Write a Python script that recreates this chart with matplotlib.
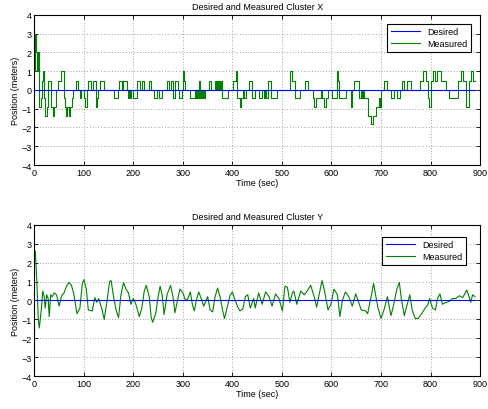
import matplotlib
matplotlib.use("Agg")
import matplotlib.pyplot as plt
import numpy as np

# ---- Data ----
# Cluster X measured: step changes (time in sec, position in meters)
x_change_times = [0, 1, 2, 4, 5, 7, 10, 13, 15, 17, 19, 22, 25, 28, 34, 37, 40, 44, 47, 54,
                  59, 62, 64, 66, 70, 72, 76, 79, 85, 89, 93, 95, 101, 103, 106, 107, 109, 114,
                  118, 124, 126, 128, 133, 140, 160, 168, 170, 178, 180, 187, 190, 192, 194, 196,
                  200, 207, 214, 217, 221, 231, 236, 242, 248, 251, 258, 268, 272, 275, 280, 285,
                  290, 293, 298, 300, 302, 304, 315, 325, 327, 329, 331, 333, 335, 337, 339, 341,
                  343, 345, 352, 356, 364, 366, 368, 370, 372, 374, 376, 378, 379, 391, 402, 407,
                  409, 410, 415, 417, 421, 424, 428, 434, 439, 440, 445, 453, 460, 463, 465, 467,
                  472, 478, 491, 517, 521, 526, 537, 546, 553, 562, 564, 568, 578, 581, 584, 589,
                  592, 602, 612, 614, 616, 629, 639, 642, 646, 656, 659, 661, 663, 666, 674, 679,
                  683, 689, 696, 698, 701, 706, 713, 720, 727, 733, 739, 743, 746, 753, 760, 779,
                  784, 791, 794, 797, 801, 805, 809, 814, 821, 831, 838, 855, 861, 865, 871, 878,
                  882, 885, 890]
x_levels = [2, 1, 3, 2, 1, 2, -0.9, -0.45, 0.5, 1, -0.45, -1.4, -0.9, 0.5, -0.9, -1.4, -0.9, 0, 0.5, 1,
            -0.45, -0.9, -1.4, -0.9, -1.4, -0.9, -0.45, 0, 0.5, 0, -0.45, 0, -0.45, -0.9, -0.45, 0, 0.5, 0,
            0.5, -0.9, -0.45, 0, 0.5, 0, -0.45, 0, 0.5, 0, 0.5, 0, -0.45, 0, -0.45, 0,
            -0.45, 0.5, 0, 0.5, 0, 0.5, 0, -0.45, 0, -0.45, 0, 0.5, 0, 0.5, -0.45, 0.5,
            0, -0.45, 0, 1, 0.5, 0, -0.45, 0, -0.45, 0, -0.45, 0.5, -0.45, 0, -0.45, 0,
            -0.45, 0, 0.5, 0, 0.5, 0, 0.5, 0, 0.5, 0, 0.5, 0, -0.45, 0, 0.5, 1,
            0, -0.45, -0.9, -0.45, 0, -0.45, 0, 0.5, 0, -0.45, 0, -0.45, 0, -0.45, 0, -0.45,
            0.5, -0.45, 0, 1, 0.5, -0.45, 0, 0.5, 0, -0.45, -0.9, -0.45, 0, -0.45, -0.9, -0.45,
            0, -0.45, 1, 0.5, -0.45, 0, -0.9, 0, 0.5, -0.45, 0, -0.45, 0, -0.45, -1.4, -1.8,
            -1.4, -0.9, -0.45, -0.9, 0, 0.5, 0, -0.45, 0, -0.45, 0, 0.5, 0, 0.5, 0, 0.5,
            1, 0.5, -0.45, -0.9, 0.5, 1, 0.5, 1, 0.5, 0, -0.45, 0.5, 1, 0.5, -0.9, 0.5,
            1, 0.5, 0.5]

# Cluster Y measured: (time in sec, position in meters)
y_times = [0, 2, 5, 8, 10, 14, 17, 20, 22, 25, 28, 30, 33, 36, 40, 45, 50, 55, 60, 65, 70, 75, 80,
           86, 92, 97, 100, 105, 109, 117, 122, 126, 130, 133, 137, 141, 147, 152, 155, 160, 165,
           170, 175, 180, 185, 190, 195, 200, 205, 212, 217, 222, 226, 232, 236, 239, 245, 250,
           254, 258, 262, 268, 275, 280, 284, 289, 294, 300, 305, 310, 315, 319, 323, 328, 332,
           337, 342, 350, 355, 360, 365, 370, 375, 380, 384, 390, 395, 400, 405, 410, 415, 421,
           426, 431, 436, 443, 446, 453, 460, 467, 474, 480, 487, 494, 501, 506, 511, 516, 521,
           524, 530, 538, 545, 551, 558, 565, 570, 575, 581, 586, 593, 599, 605, 612, 617, 622,
           628, 635, 642, 649, 655, 660, 669, 673, 680, 685, 689, 694, 700, 706, 713, 720, 725,
           732, 737, 741, 747, 752, 758, 763, 769, 775, 782, 788, 795, 798, 804, 810, 814, 819,
           824, 831, 838, 844, 851, 858, 865, 873, 878, 881, 885, 890]
y_values = [2.4, 2.6, 1.0, -1.0, -1.45, -0.5, 0.5, 0.2, -0.4, 0.3, 0.1, -0.85, 0.3, 0.2, 0.4, 0.3,
            -0.3, 0.25, 0.4, 0.75, 0.95, 0.8, 0.3, -0.7, -0.4, 0.9, 1.1, 0.6, -0.5, -0.55, 0.15,
            -0.1, 0.1, -0.15, -0.5, -1.0, 0.0, 1.0, 1.05, 0.2, -0.5, -0.9, 0.3, 0.95, 0.6, 0.4,
            -0.2, 0.1, -0.2, -0.85, -0.4, 0.5, 0.8, 0.2, -0.9, -1.15, -0.7, 0.2, 0.75, 0.3, -0.75,
            0.3, 0.8, 0.2, -0.65, 0.0, 0.6, 0.4, 0.0, 0.1, 0.45, -0.2, -0.55, 0.1, 0.45, 0.1, -0.3,
            0.2, -0.5, -0.6, 0.2, 0.65, 0.2, -0.5, -0.95, -0.3, 0.25, 0.45, 0.05, -0.3, -0.55,
            -0.45, 0.2, 0.3, -0.4, 0.1, -0.4, 0.4, -0.2, 0.45, 0.2, -0.3, 0.35, 0.1, -0.55, 0.75,
            0.7, -0.1, 0.4, 0.5, -0.2, 0.5, 0.3, 0.5, 0.8, 0.2, -0.35, 0.3, 1.05, 0.5, -0.5, -0.2,
            0.6, 0.3, -0.85, 0.0, 0.45, 0.2, -0.3, 0.35, -0.1, -0.5, -0.55, -0.7, 0.2, 0.9, 0.3,
            -0.4, -0.95, -0.5, 0.2, -0.8, -0.3, 0.6, 0.95, 0.1, -0.8, -0.3, 0.3, -0.5, -0.95,
            -0.95, -0.7, -0.45, -0.2, 0.1, -0.4, -0.5, 0.1, 0.35, -0.2, -0.1, -0.05, 0.1, 0.1,
            0.25, 0.15, 0.55, 0.2, -0.1, 0.3, 0.2]

desired_times = [0, 890]
desired_values = [0, 0]

titles = ["Desired and Measured Cluster X", "Desired and Measured Cluster Y"]
xticks = [0, 100, 200, 300, 400, 500, 600, 700, 800, 900]
yticks = [-4, -3, -2, -1, 0, 1, 2, 3, 4]

# ---- Style ----
plt.rcParams['font.family'] = ['Liberation Sans', 'DejaVu Sans']
FS = 6.5

fig = plt.figure(figsize=(4.89, 4.10), dpi=100)
ax1 = fig.add_axes([0.0702, 0.595, 0.9115, 0.3666])
ax2 = fig.add_axes([0.0702, 0.0798, 0.9115, 0.3698])

def style(ax, title):
    ax.set_xlim(0, 900)
    ax.set_ylim(-4, 4)
    ax.set_xticks(xticks)
    ax.set_yticks(yticks)
    ax.tick_params(direction='in', length=3, width=0.6, labelsize=FS, top=True, right=True, pad=2)
    ax.grid(True, linestyle=(0, (1, 3)), color='#555555', linewidth=0.5)
    for s in ax.spines.values():
        s.set_linewidth(0.8)
    ax.set_title(title, fontsize=FS, pad=4)
    ax.set_xlabel("Time (sec)", fontsize=FS, labelpad=1)
    ax.set_ylabel("Position (meters)", fontsize=FS, labelpad=1)

# Top: cluster X
m1, = ax1.step(x_change_times, x_levels, where='post', color=(0, 0.5, 0), linewidth=0.8, zorder=2)
d1, = ax1.plot(desired_times, desired_values, color=(0, 0, 1), linewidth=0.8, zorder=3)
style(ax1, titles[0])
leg1 = ax1.legend([d1, m1], ["Desired", "Measured"], loc='upper right', fontsize=FS,
                  fancybox=False, edgecolor='black', framealpha=1, borderpad=0.4,
                  handlelength=3.2, labelspacing=0.3, bbox_to_anchor=(0.99, 0.97))
leg1.get_frame().set_linewidth(0.8)

# Bottom: cluster Y
m2, = ax2.plot(y_times, y_values, color=(0, 0.5, 0), linewidth=0.8, zorder=2)
d2, = ax2.plot(desired_times, desired_values, color=(0, 0, 1), linewidth=0.8, zorder=3)
style(ax2, titles[1])
leg2 = ax2.legend([d2, m2], ["Desired", "Measured"], loc='upper right', fontsize=FS,
                  fancybox=False, edgecolor='black', framealpha=1, borderpad=0.4,
                  handlelength=3.2, labelspacing=0.3, bbox_to_anchor=(0.978, 0.95))
leg2.get_frame().set_linewidth(0.8)

fig.savefig("out.png", dpi=100)
